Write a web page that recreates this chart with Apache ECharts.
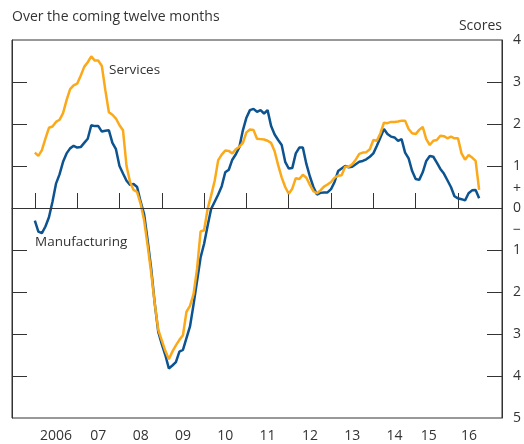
<!DOCTYPE html>
<html>
<head>
<meta charset="utf-8">
<script src="https://cdn.jsdelivr.net/npm/echarts@6/dist/echarts.min.js"></script>
<style>
  html, body { margin: 0; padding: 0; background: #fff; }
  #chart { width: 524px; height: 444px; }
</style>
</head>
<body>
<div id="chart"></div>
<script>
// monthly scores, Jan 2006 onwards
const startYear = 2006
const manufacturing = [
  -0.30, -0.56, -0.60, -0.44, -0.22, 0.15, 0.58, 0.80, 1.10, 1.30, 1.42, 1.48,
  1.44, 1.45, 1.55, 1.65, 1.97, 1.95, 1.95, 1.82, 1.84, 1.85, 1.55, 1.40,
  1.00, 0.82, 0.65, 0.55, 0.57, 0.50, 0.15, -0.15, -0.78, -1.45, -2.27, -2.95,
  -3.24, -3.50, -3.82, -3.75, -3.67, -3.42, -3.38, -3.10, -2.82, -2.30, -1.74, -1.18,
  -0.85, -0.42, -0.02, 0.15, 0.32, 0.52, 0.85, 0.91, 1.15, 1.28, 1.45, 1.85,
  2.15, 2.33, 2.36, 2.29, 2.33, 2.25, 2.33, 1.95, 1.75, 1.62, 1.50, 1.10,
  0.94, 0.95, 1.30, 1.44, 1.44, 1.05, 0.75, 0.50, 0.32, 0.36, 0.37, 0.37,
  0.45, 0.62, 0.88, 0.94, 1.00, 0.97, 0.98, 1.04, 1.10, 1.12, 1.16, 1.22,
  1.30, 1.48, 1.68, 1.88, 1.76, 1.70, 1.68, 1.60, 1.64, 1.32, 1.18, 0.88,
  0.69, 0.67, 0.85, 1.12, 1.24, 1.22, 1.08, 0.93, 0.82, 0.66, 0.50, 0.28,
  0.23, 0.21, 0.18, 0.35, 0.42, 0.43, 0.23
]
const services = [
  1.32, 1.24, 1.38, 1.65, 1.91, 1.94, 2.05, 2.10, 2.26, 2.57, 2.83, 2.92,
  2.96, 3.15, 3.36, 3.47, 3.61, 3.51, 3.51, 3.38, 2.80, 2.28, 2.22, 2.13,
  1.97, 1.85, 1.00, 0.62, 0.43, 0.38, 0.10, -0.30, -0.90, -1.55, -2.27, -2.90,
  -3.15, -3.40, -3.60, -3.42, -3.27, -3.14, -3.03, -2.47, -2.33, -2.05, -1.45, -0.56,
  -0.53, -0.02, 0.30, 0.65, 1.14, 1.27, 1.37, 1.36, 1.30, 1.40, 1.46, 1.55,
  1.80, 1.87, 1.86, 1.65, 1.64, 1.63, 1.60, 1.55, 1.35, 1.02, 0.73, 0.50,
  0.34, 0.46, 0.71, 0.69, 0.79, 0.72, 0.55, 0.40, 0.35, 0.42, 0.51, 0.56,
  0.62, 0.72, 0.77, 0.78, 0.98, 0.98, 1.04, 1.15, 1.29, 1.32, 1.33, 1.40,
  1.62, 1.60, 1.78, 2.03, 2.02, 2.05, 2.05, 2.06, 2.08, 2.08, 1.88, 1.78,
  1.76, 1.86, 1.93, 1.64, 1.50, 1.60, 1.62, 1.72, 1.71, 1.66, 1.70, 1.66,
  1.66, 1.30, 1.15, 1.26, 1.20, 1.12, 0.43
]
const yearTicks = [2006, 2007, 2008, 2009, 2010, 2011, 2012, 2013, 2014, 2015, 2016]
const yearLabels = ['2006', '07', '08', '09', '10', '11', '12', '13', '14', '15', '16']
const scoreTicks = [-4, -3, -2, -1, 0, 1, 2, 3]
const scoreLabels = [4, 3, 2, 1, 0.45, 0, -0.52, -1, -2, -3, -4, -5]

const toPoints = arr => arr.map((v, i) => [startYear + i / 12, v])
const mPts = toPoints(manufacturing)
const sPts = toPoints(services)

// label positions: middle of each year, last two nudged like the original
const labelPos = yearTicks.map((y, i) => (i === 9 ? y + 0.31 : i === 10 ? y + 0.26 : y + 0.5))

const ink = '#333'
const font = 'Open Sans'

const chart = echarts.init(document.getElementById('chart'))

const yAxisBase = {
  type: 'value',
  min: -5,
  max: 4,
  axisLine: { show: true, lineStyle: { color: ink, width: 1 } },
  axisTick: { show: true, inside: true, length: 15, customValues: scoreTicks, lineStyle: { color: ink } },
  splitLine: { show: false }
}

chart.setOption({
  animation: false,
  textStyle: { fontFamily: font },
  grid: {
    left: 12, right: 21, top: 40, bottom: 26,
    show: true, borderColor: ink, borderWidth: 1, backgroundColor: 'transparent'
  },
  graphic: [
    { type: 'text', left: 12, top: 10, style: { text: 'Over the coming twelve months', fill: ink, font: '14px "Open Sans"' } },
    { type: 'text', right: 22, top: 19, style: { text: 'Scores', fill: ink, font: '14px "Open Sans"' } },
    { type: 'text', left: 109, top: 63, style: { text: 'Services', fill: ink, font: '13.5px "Open Sans"' } },
    { type: 'text', left: 35, top: 235, style: { text: 'Manufacturing', fill: ink, font: '13.5px "Open Sans"' } }
  ],
  xAxis: {
    type: 'value',
    min: 2005.46,
    max: 2017.04,
    axisLine: { show: true, lineStyle: { color: ink, width: 1 } },
    axisTick: { show: true, inside: true, length: 15, customValues: yearTicks, lineStyle: { color: ink } },
    axisLabel: {
      customValues: labelPos,
      margin: 11,
      color: ink,
      fontSize: 14,
      fontFamily: font,
      formatter: v => yearLabels[yearTicks.indexOf(Math.floor(v))]
    },
    splitLine: { show: false }
  },
  yAxis: [
    Object.assign({}, yAxisBase, { position: 'left', axisLabel: { show: false } }),
    Object.assign({}, yAxisBase, {
      position: 'right',
      axisLabel: {
        customValues: scoreLabels,
        margin: 11,
        color: ink,
        fontSize: 14,
        fontFamily: font,
        showMinLabel: true,
        showMaxLabel: true,
        formatter: v => (v === 0.45 ? '+' : v === -0.52 ? '\u2212' : String(Math.abs(v)))
      }
    })
  ],
  series: [
    {
      name: 'Services',
      type: 'line',
      data: sPts,
      showSymbol: false,
      lineStyle: { color: '#FBA919', width: 2.5 },
      z: 3,
      markLine: {
        silent: true,
        symbol: 'none',
        label: { show: false },
        lineStyle: { color: ink, width: 1, type: 'solid' },
        data: [[{ coord: [mPts[0][0], 0] }, { coord: [mPts[mPts.length - 1][0], 0] }]]
      }
    },
    {
      name: 'Manufacturing',
      type: 'line',
      data: mPts,
      showSymbol: false,
      lineStyle: { color: '#0C5390', width: 2.5 },
      z: 2
    }
  ]
})
</script>
</body>
</html>
